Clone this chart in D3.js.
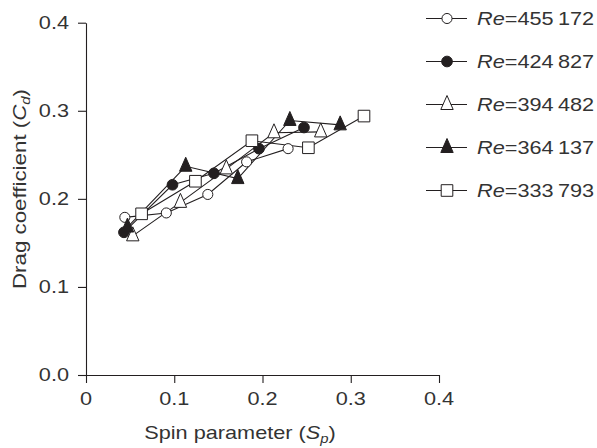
<!DOCTYPE html>
<html>
<head>
<meta charset="utf-8">
<script src="https://cdn.jsdelivr.net/npm/d3@7"></script>
<style>
body{margin:0;background:#fff}
text{font-family:"Liberation Sans",Arial,Helvetica,sans-serif;fill:#333}
</style>
</head>
<body>
<svg id="chart" width="597" height="448"></svg>
<script>
// values
var reynolds = [455172, 424827, 394482, 364137, 333793]

var spin_455 = [0.044, 0.091, 0.138, 0.182, 0.229]
var drag_455 = [0.179, 0.184, 0.205, 0.242, 0.257]

var spin_424 = [0.043, 0.098, 0.145, 0.196, 0.247]
var drag_424 = [0.162, 0.216, 0.229, 0.257, 0.281]

var spin_394 = [0.053, 0.107, 0.159, 0.213, 0.266]
var drag_394 = [0.158, 0.196, 0.234, 0.275, 0.276]

var spin_364 = [0.047, 0.113, 0.172, 0.231, 0.288]
var drag_364 = [0.168, 0.237, 0.223, 0.289, 0.284]

var spin_333 = [0.063, 0.124, 0.188, 0.252, 0.315]
var drag_333 = [0.183, 0.220, 0.266, 0.258, 0.294]

var xTicks = [0, 0.1, 0.2, 0.3, 0.4]
var yTicks = [0, 0.1, 0.2, 0.3, 0.4]
var xTickLabels = ['0', '0.1', '0.2', '0.3', '0.4']
var yTickLabels = ['0.0', '0.1', '0.2', '0.3', '0.4']

var ink = '#231f20'
var stretch = 1.24   // the figure's lettering is wider than Arial

// triangle marker, a bit taller than wide like in the print
var tri = {
    draw: function(ctx, size){
        var w = 6.2, top = -9, bot = 5
        ctx.moveTo(0, top)
        ctx.lineTo(w, bot)
        ctx.lineTo(-w, bot)
        ctx.closePath()
    }
}

var series = [
    {xs: spin_455, ys: drag_455, shape: d3.symbolCircle, size: 80, fill: '#fff'},
    {xs: spin_424, ys: drag_424, shape: d3.symbolCircle, size: 90, fill: ink},
    {xs: spin_394, ys: drag_394, shape: tri, size: 1, fill: '#fff'},
    {xs: spin_364, ys: drag_364, shape: tri, size: 1, fill: ink},
    {xs: spin_333, ys: drag_333, shape: d3.symbolSquare, size: 135, fill: '#fff'}
]

var svg = d3.select('#chart')

var x = d3.scaleLinear().domain([0, 0.4]).range([86, 439])
var y = d3.scaleLinear().domain([0, 0.4]).range([375, 22.7])

// axes
svg.append('g')
    .attr('transform', 'translate(0,375)')
    .call(d3.axisBottom(x).tickValues(xTicks).tickSize(8).tickSizeOuter(0).tickFormat(''))
svg.append('g')
    .attr('transform', 'translate(86,0)')
    .call(d3.axisLeft(y).tickValues(yTicks).tickSize(8).tickSizeOuter(0).tickFormat(''))
svg.selectAll('.domain, .tick line').attr('stroke', ink).attr('stroke-width', 1.1)

// tick labels
svg.append('g').selectAll('text').data(xTicks).enter().append('text')
    .attr('transform', function(d){ return 'translate(' + x(d) + ',405) scale(' + stretch + ',1)' })
    .attr('text-anchor', 'middle')
    .attr('font-size', 17.5)
    .text(function(d, i){ return xTickLabels[i] })

svg.append('g').selectAll('text').data(yTicks).enter().append('text')
    .attr('transform', function(d){ return 'translate(69,' + (y(d) + 6.3) + ') scale(' + stretch + ',1)' })
    .attr('text-anchor', 'end')
    .attr('font-size', 17.5)
    .text(function(d, i){ return yTickLabels[i] })

// axis titles
var xt = svg.append('text')
    .attr('transform', 'translate(240,439) scale(' + stretch + ',1)')
    .attr('text-anchor', 'middle')
    .attr('font-size', 17.5)
xt.append('tspan').text('Spin parameter (')
xt.append('tspan').attr('font-style', 'italic').text('S')
xt.append('tspan').attr('font-style', 'italic').attr('font-size', 12).attr('dy', 4).text('p')
xt.append('tspan').attr('dy', -4).text(')')

var yt = svg.append('text')
    .attr('transform', 'translate(26,189) rotate(-90) scale(' + stretch + ',1)')
    .attr('text-anchor', 'middle')
    .attr('font-size', 18)
yt.append('tspan').text('Drag coefficient (')
yt.append('tspan').attr('font-style', 'italic').text('C')
yt.append('tspan').attr('font-style', 'italic').attr('font-size', 12).attr('dy', 4).text('d')
yt.append('tspan').attr('dy', -4).text(')')

// lines
var line = d3.line()
    .x(function(d){ return x(d[0]) })
    .y(function(d){ return y(d[1]) })

series.forEach(function(s){
    var pts = s.xs.map(function(v, i){ return [v, s.ys[i]] })
    svg.append('path')
        .attr('d', line(pts))
        .attr('fill', 'none')
        .attr('stroke', ink)
        .attr('stroke-width', 1.1)
})

// markers
series.forEach(function(s){
    var pts = s.xs.map(function(v, i){ return [v, s.ys[i]] })
    svg.append('g').selectAll('path').data(pts).enter().append('path')
        .attr('d', d3.symbol().type(s.shape).size(s.size))
        .attr('transform', function(d){ return 'translate(' + x(d[0]) + ',' + y(d[1]) + ')' })
        .attr('fill', s.fill)
        .attr('stroke', ink)
        .attr('stroke-width', 1)
})

// legend
var legend = svg.append('g')
series.forEach(function(s, i){
    var ry = 18.5 + i * 43
    legend.append('line')
        .attr('x1', 426).attr('x2', 467)
        .attr('y1', ry).attr('y2', ry)
        .attr('stroke', ink).attr('stroke-width', 1.1)
    legend.append('path')
        .attr('d', d3.symbol().type(s.shape).size(s.size))
        .attr('transform', 'translate(447,' + ry + ')')
        .attr('fill', s.fill)
        .attr('stroke', ink)
        .attr('stroke-width', 1)
    var num = String(reynolds[i])
    var t = legend.append('text')
        .attr('transform', 'translate(477,' + (ry + 6.3) + ') scale(' + stretch + ',1)')
        .attr('font-size', 17.5)
    t.append('tspan').attr('font-style', 'italic').text('Re')
    t.append('tspan').text('=' + num.slice(0, 3) + '\u2009' + num.slice(3))
})
</script>
</body>
</html>
